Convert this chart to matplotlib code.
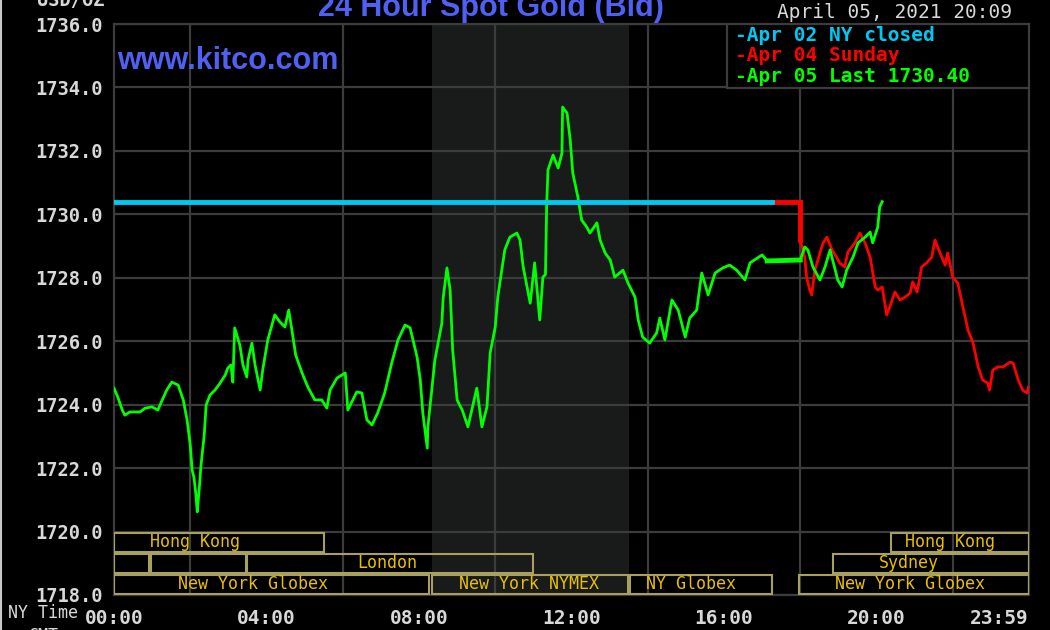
import numpy as np
import matplotlib
matplotlib.use('Agg')
import matplotlib.pyplot as plt
from matplotlib.patches import Rectangle

# time in minutes after midnight (NY time), price in USD/oz

# Apr 02 NY close, held flat across the day
close_apr02 = 1730.40
close_end = 1035

# Apr 05 (green)
apr05_t = [0, 6, 13, 17, 25, 41, 49, 60, 69, 76, 83, 91, 101, 109, 115, 120, 123, 126, 129, 131,
           134, 137, 142, 145, 151, 159, 167, 175, 179, 184, 187, 190, 198, 203, 209, 211, 217, 222,
           230, 234, 242, 253, 261, 269, 275, 280, 286, 296, 305, 316, 327, 335, 340, 351, 364, 368,
           382, 390, 398, 406, 415, 426, 437, 447, 458, 466, 477, 482, 486, 493, 494, 505, 516, 518,
           524, 529, 533, 540, 548, 557, 571, 579, 587, 592, 600, 604, 615, 623, 634, 639, 644, 650,
           655, 662, 670, 675, 679, 681, 683, 691, 699, 705, 706, 713, 718, 722, 730, 736, 744, 749,
           760, 765, 773, 781, 788, 801, 809, 820, 825, 832, 843, 854, 859, 867, 878, 888, 899, 906,
           917, 925, 935, 946, 958, 969, 980, 993, 1001, 1020, 1028]
apr05_p = [1724.52, 1724.24, 1723.83, 1723.67, 1723.77, 1723.77, 1723.89, 1723.93, 1723.83, 1724.15,
           1724.46, 1724.71, 1724.62, 1724.15, 1723.52, 1722.73, 1721.94, 1721.69, 1721.15, 1720.62,
           1721.31, 1722.10, 1723.04, 1723.99, 1724.30, 1724.46, 1724.68, 1724.93, 1725.15, 1725.25,
           1724.71, 1726.42, 1725.88, 1725.25, 1724.87, 1725.41, 1725.94, 1725.25, 1724.46, 1725.09,
           1726.04, 1726.83, 1726.61, 1726.45, 1726.98, 1726.35, 1725.56, 1725.00, 1724.56, 1724.15,
           1724.15, 1723.89, 1724.46, 1724.84, 1725.00, 1723.83, 1724.40, 1724.37, 1723.52, 1723.36,
           1723.74, 1724.37, 1725.31, 1726.04, 1726.51, 1726.42, 1725.50, 1724.78, 1723.74, 1722.63,
           1723.30, 1725.41, 1726.57, 1727.36, 1728.31, 1727.61, 1725.72, 1724.15, 1723.83, 1723.30,
           1724.52, 1723.30, 1723.93, 1725.63, 1726.45, 1727.39, 1728.88, 1729.28, 1729.41, 1729.19,
           1728.34, 1727.71, 1727.20, 1728.47, 1726.67, 1728.02, 1728.10, 1730.36, 1731.40, 1731.87,
           1731.46, 1731.93, 1733.38, 1733.19, 1732.34, 1731.30, 1730.55, 1729.82, 1729.60, 1729.41,
           1729.73, 1729.19, 1728.78, 1728.56, 1728.02, 1728.24, 1727.83, 1727.39, 1726.67, 1726.13,
           1725.94, 1726.26, 1726.73, 1726.04, 1727.30, 1726.98, 1726.13, 1726.73, 1726.98, 1728.15,
           1727.46, 1728.15, 1728.31, 1728.40, 1728.24, 1727.93, 1728.47, 1728.72, 1728.53]

# Apr 05 evening session (green, after the 17:00-18:00 break)
eve_t = [1080, 1087, 1092, 1100, 1111, 1119, 1127, 1131, 1139, 1146, 1153, 1163, 1171, 1182, 1190,
         1194, 1202, 1205, 1209]
eve_p = [1728.56, 1728.97, 1728.88, 1728.34, 1727.93, 1728.34, 1728.88, 1728.56, 1727.93, 1727.71,
         1728.24, 1728.65, 1729.10, 1729.28, 1729.44, 1729.10, 1729.60, 1730.23, 1730.40]

# Apr 04 Sunday (red)
apr04_t = [1080, 1087, 1090, 1095, 1098, 1103, 1111, 1116, 1122, 1130, 1135, 1142, 1150, 1155, 1166,
           1174, 1182, 1190, 1198, 1202, 1209, 1216, 1221, 1229, 1237, 1245, 1253, 1257, 1264, 1271,
           1279, 1287, 1292, 1300, 1308, 1312, 1320, 1328, 1336, 1344, 1352, 1360, 1367, 1375, 1378,
           1383, 1391, 1399, 1410, 1415, 1423, 1430, 1437, 1439]
apr04_p = [1729.19, 1728.65, 1728.02, 1727.61, 1727.46, 1728.24, 1728.78, 1729.10, 1729.28, 1728.88,
           1728.72, 1728.47, 1728.34, 1728.81, 1729.10, 1729.41, 1729.10, 1728.65, 1727.71, 1727.61,
           1727.71, 1726.83, 1727.08, 1727.55, 1727.30, 1727.39, 1727.52, 1727.87, 1727.55, 1728.34,
           1728.47, 1728.65, 1729.19, 1728.78, 1728.40, 1728.78, 1728.02, 1727.83, 1727.08, 1726.35,
           1725.94, 1725.19, 1724.78, 1724.68, 1724.46, 1725.09, 1725.19, 1725.19, 1725.34, 1725.31,
           1724.78, 1724.46, 1724.37, 1724.55]

legend_labels = ['Apr 02 NY closed', 'Apr 04 Sunday', 'Apr 05 Last 1730.40']
legend_colors = ['#00c8f0', '#ff0000', '#00ff00']

# market sessions: row, start, end, label, label centre
sessions = [
    (0, 0, 330, 'Hong Kong', 127),
    (0, 1223, 1440, 'Hong Kong', 1316),
    (1, 0, 55, '', 0),
    (1, 58, 208, '', 0),
    (1, 210, 660, 'London', 430),
    (1, 1131, 1440, 'Sydney', 1251),
    (2, 0, 495, 'New York Globex', 219),
    (2, 500, 809, 'New York NYMEX', 653),
    (2, 812, 1035, 'NY Globex', 908),
    (2, 1078, 1440, 'New York Globex', 1252),
]
nymex_open, nymex_close = 500, 810

xtick_pos = [0, 240, 480, 720, 960, 1200, 1439]
xtick_lab = ['00:00', '04:00', '08:00', '12:00', '16:00', '20:00', '23:59']

mono = 'DejaVu Sans Mono'
txt = '#d8d8d8'
grid_c = '#3c3c3c'
sess_edge = '#a8a060'
sess_text = '#e8c000'
kitco_blue = '#4f60f2'

fig = plt.figure(figsize=(10.5, 6.3), dpi=100, facecolor='black')
ax = fig.add_axes([114/1050, 35/630, 915/1050, 571/630], facecolor='black')

ax.set_xlim(0, 1440)
ax.set_ylim(1718, 1736)

# grid
ax.set_xticks(np.arange(0, 1441, 120), minor=True)
ax.set_xticks(xtick_pos)
ax.set_xticklabels(xtick_lab, family=mono, fontsize=14, fontweight='bold', color=txt)
ax.get_xticklabels()[-1].set_horizontalalignment('right')
yt = np.arange(1718, 1737, 2)
ax.set_yticks(yt)
ax.set_yticklabels(['%.1f' % v for v in yt], family=mono, fontsize=13.5, fontweight='bold', color=txt)
ax.tick_params(which='both', length=0)
ax.tick_params(axis='x', pad=10)
ax.tick_params(axis='y', pad=8)
ax.grid(which='minor', axis='x', color=grid_c, lw=1.6, zorder=0)
ax.grid(which='major', axis='y', color=grid_c, lw=1.6, zorder=0)
for s in ax.spines.values():
    s.set_color(grid_c)
    s.set_linewidth(1.6)

# NYMEX shading
ax.axvspan(nymex_open, nymex_close, color='#191b1a', zorder=0.5, lw=0)

# session boxes
row_top = [1720.0, 1719.33, 1718.67]
row_h = 0.667
for row, t0, t1, lab, tc in sessions:
    y0 = row_top[row] - row_h + 0.03
    ax.add_patch(Rectangle((t0, y0), t1 - t0, row_h - 0.06, facecolor='none',
                           edgecolor=sess_edge, lw=1.5, zorder=3))
    if lab:
        ax.text(tc, row_top[row] - row_h/2, lab, family=mono, fontsize=12, color=sess_text,
                ha='center', va='center', zorder=4)

# price lines
ax.plot(apr04_t, apr04_p, color='#ff0000', lw=2, zorder=5)
ax.plot([close_end, 1080, 1080], [close_apr02, close_apr02, apr04_p[0]], color='#ff0000', lw=3.5,
        zorder=5, solid_joinstyle='miter')
ax.plot(apr05_t, apr05_p, color='#00ff00', lw=2, zorder=6)
ax.plot([apr05_t[-1], eve_t[0]], [apr05_p[-1], eve_p[0]], color='#00ff00', lw=3.5, zorder=6)
ax.plot(eve_t, eve_p, color='#00ff00', lw=2, zorder=6)
ax.plot([0, close_end], [close_apr02, close_apr02], color='#00c8f0', lw=3.5, zorder=7)

# legend box
ax.add_patch(Rectangle((965, 1733.98), 475, 2.02, facecolor='black', edgecolor=grid_c,
                       lw=1.6, zorder=8))
for i, (lab, c) in enumerate(zip(legend_labels, legend_colors)):
    ax.text(978, 1735.65 - i*0.65, '-' + lab, family=mono, fontsize=14, fontweight='bold',
            color=c, ha='left', va='center', zorder=9)

# header texts
fig.text(491/1050, 1 - 16/630, '24 Hour Spot Gold (Bid)', family='Liberation Sans', fontsize=22,
         fontweight='bold', color=kitco_blue, ha='center', va='baseline')
fig.text(117/1050, 1 - 69/630, 'www.kitco.com', family='Liberation Sans', fontsize=22,
         fontweight='bold', color=kitco_blue, ha='left', va='baseline')
fig.text(1012/1050, 1 - 12/630, 'April 05, 2021 20:09', family=mono, fontsize=14,
         color=txt, ha='right', va='center')
fig.text(104/1050, 1 - 1/630, 'USD/OZ', family=mono, fontsize=13.5, fontweight='bold',
         color=txt, ha='right', va='center')
fig.text(8/1050, 1 - 613/630, 'NY Time', family=mono, fontsize=12, color=txt,
         ha='left', va='center')
fig.text(28/1050, 1 - 627/630, 'GMT', family=mono, fontsize=12, color=txt,
         ha='left', va='top')

# thin light edge on the left of the image
fig.add_artist(plt.Line2D([0.001, 0.001], [0, 1], color='#c8c8c8', lw=1.5,
                          transform=fig.transFigure))

fig.savefig('out.png', dpi=100, facecolor='black')
